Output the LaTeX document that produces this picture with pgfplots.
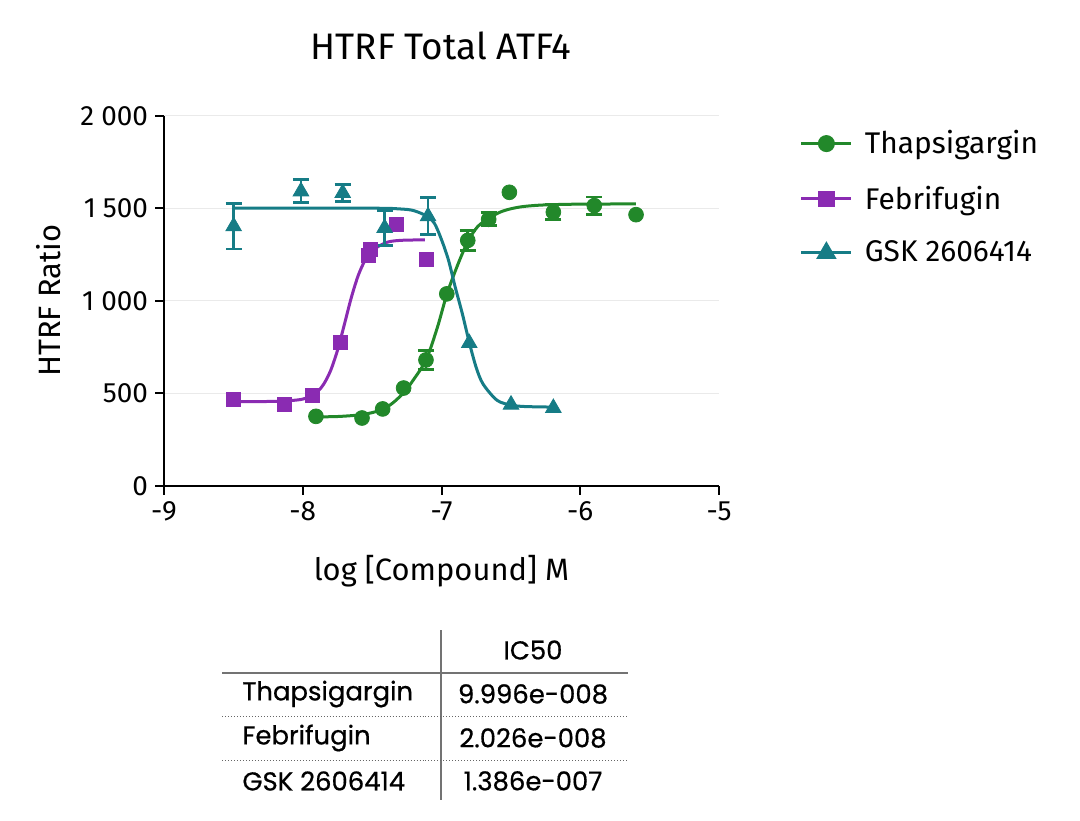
\documentclass[border=0pt]{standalone}
\usepackage{fontspec}
\setmainfont{Fira Sans}
\newfontfamily\tabfont{Poppins}[FakeBold=0.6]
\usepackage{pgfplots}
\pgfplotsset{compat=1.18}
\definecolor{cgreen}{RGB}{34,136,42}
\definecolor{cpurple}{RGB}{138,43,178}
\definecolor{cteal}{RGB}{22,124,134}
\definecolor{cgrid}{RGB}{234,234,234}
\begin{document}
\begin{tikzpicture}[x=1bp,y=1bp]
\begin{axis}[
  at={(118.2,180.7)}, anchor=south west,
  width=277.5bp, height=185bp, scale only axis,
  xmin=-9, xmax=-5, ymin=0, ymax=2000,
  axis x line*=bottom, axis y line*=left,
  xtick={-9,-8,-7,-6,-5}, ytick={0,500,1000,1500,2000},
  tick align=outside, major tick length=4.5bp,
  ymajorgrids, grid style={cgrid, line width=0.6bp},
  axis line style={line width=1bp, black},
  tick style={line width=1bp, black},
  ticklabel style={font=\fontsize{14}{16}\selectfont},
  /pgf/number format/.cd, 1000 sep={\hspace{0.25em}}, assume math mode=true,
  /pgfplots/.cd,
  title={HTRF Total ATF4},
  title style={at={(0.499,1.155)}, anchor=center, font=\fontsize{18.5}{22}\selectfont},
  xlabel={log [Compound] M},
  xlabel style={at={(0.5,-0.232)}, anchor=center, font=\fontsize{15.5}{18}\selectfont},
  ylabel={HTRF Ratio},
  ylabel style={at={(-0.207,0.5)}, anchor=center, font=\fontsize{15.5}{18}\selectfont},
  legend style={at={(1.145,0.972)}, anchor=north west, draw=none, fill=none,
    font=\fontsize{15}{17}\selectfont, row sep=10.5bp, inner sep=0pt},
  legend cell align=left,
  legend image code/.code={\draw[mark repeat=2,mark phase=2] plot coordinates {(0bp,0bp) (12.5bp,0bp) (25bp,0bp)};},
  error bars/error bar style={line width=1.4bp},
  error bars/error mark options={rotate=90, mark size=4bp, line width=1.4bp},
]
\addlegendimage{cgreen, line width=1.5bp, mark=*, mark size=3.5bp, mark options={solid}}
\addlegendentry{\hspace{4bp}Thapsigargin}
\addlegendimage{cpurple, line width=1.5bp, mark=square*, mark size=3.4bp, mark options={solid}}
\addlegendentry{\hspace{4bp}Febrifugin}
\addlegendimage{cteal, line width=1.5bp, mark=triangle*, mark size=4.4bp, mark options={solid}}
\addlegendentry{\hspace{4bp}GSK 2606414}

% fitted curves
\addplot[forget plot, cgreen, line width=1.5bp, smooth, mark=none] coordinates {
(-7.90,372) (-7.75,374) (-7.60,382) (-7.50,395) (-7.42,415) (-7.35,448) (-7.27,505)
(-7.20,575) (-7.11,682) (-7.03,855) (-6.96,1038) (-6.88,1200) (-6.81,1320) (-6.74,1400)
(-6.66,1445) (-6.58,1478) (-6.50,1497) (-6.40,1510) (-6.25,1518) (-6.00,1522) (-5.60,1523)};
\addplot[forget plot, cpurple, line width=1.5bp, smooth, mark=none] coordinates {
(-8.50,455) (-8.20,456) (-8.00,468) (-7.90,505) (-7.85,548) (-7.80,621) (-7.75,731)
(-7.70,872) (-7.65,1017) (-7.60,1137) (-7.55,1220) (-7.50,1271) (-7.40,1314) (-7.30,1326) (-7.12,1329)};
\addplot[forget plot, cteal, line width=1.5bp, smooth, mark=none] coordinates {
(-8.50,1500) (-7.50,1500) (-7.30,1496) (-7.20,1487) (-7.10,1455) (-7.05,1417) (-7.00,1330)
(-6.95,1220) (-6.90,1070) (-6.85,930) (-6.80,775) (-6.75,639) (-6.70,549) (-6.60,462)
(-6.50,436) (-6.40,428) (-6.20,425)};

% Thapsigargin points
\addplot[forget plot, cgreen, only marks, mark=*, mark size=3.7bp,
  error bars/.cd, y dir=both, y explicit] coordinates {
(-7.112,680) +- (0,50) (-6.811,1326) +- (0,55) (-6.660,1440) +- (0,35)
(-6.194,1479) +- (0,40) (-5.899,1514) +- (0,47)};
\addplot[forget plot, cgreen, only marks, mark=*, mark size=3.7bp] coordinates {
(-7.905,375) (-7.573,366) (-7.424,415) (-7.273,528) (-6.962,1037) (-6.511,1586) (-5.598,1465)};

% Febrifugin points
\addplot[forget plot, cpurple, only marks, mark=square*, mark size=3.5bp] coordinates {
(-8.500,465) (-8.133,441) (-7.933,488) (-7.732,775) (-7.530,1245) (-7.515,1280) (-7.322,1411) (-7.112,1224)};

% GSK 2606414 points
\addplot[forget plot, cteal, only marks, mark=triangle*, mark size=4.5bp,
  error bars/.cd, y dir=both, y explicit] coordinates {
(-8.498,1402) +- (0,123) (-8.013,1591) +- (0,62) (-7.712,1582) +- (0,45)
(-7.410,1393) +- (0,95) (-7.097,1456) +- (0,100)};
\addplot[forget plot, cteal, only marks, mark=triangle*, mark size=4.5bp] coordinates {
(-6.800,771) (-6.499,438) (-6.194,420)};
\end{axis}

% IC50 table
\draw[black!55, line width=0.6bp] (220.5,95) -- (220.5,10);
\draw[black!55, line width=0.6bp] (111,73.5) -- (314,73.5);
\draw[black!60, line width=0.5bp, densely dotted] (111,52) -- (314,52);
\draw[black!60, line width=0.5bp, densely dotted] (111,30) -- (314,30);
\begin{scope}[every node/.style={font=\tabfont\fontsize{13}{15}\selectfont, inner sep=0pt}]
\node at (266.5,85) {IC50};
\node[anchor=west] at (121,63) {Thapsigargin};
\node[anchor=west] at (121,41) {Febrifugin};
\node[anchor=west] at (121,19.5) {GSK 2606414};
\node at (266.5,63) {9.996e-008};
\node at (266.5,41) {2.026e-008};
\node at (266.5,19.5) {1.386e-007};
\end{scope}
\pgfresetboundingbox
\path[use as bounding box] (0,0) rectangle (540,410);
\end{tikzpicture}
\end{document}
